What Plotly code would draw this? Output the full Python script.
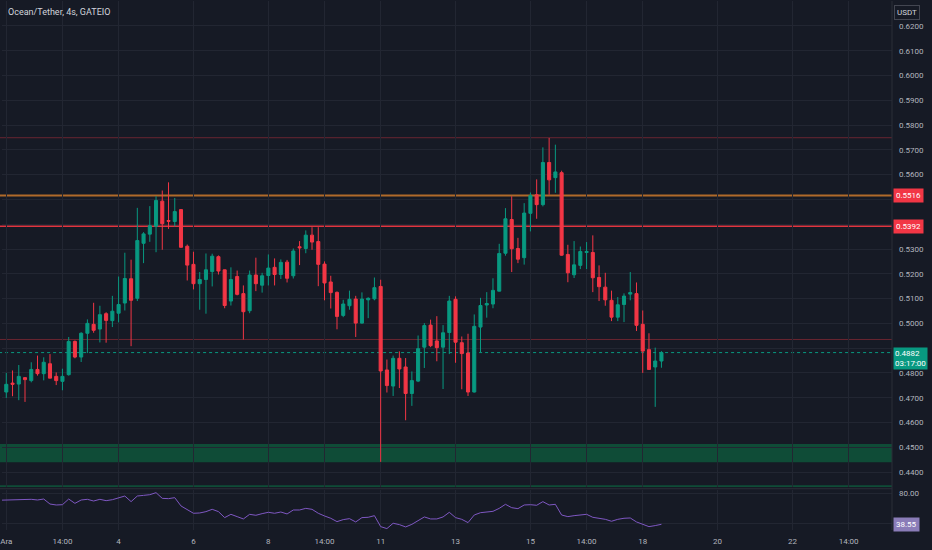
import pandas as pd
import plotly.graph_objects as go

# 4h candles, Ocean/Tether on GATEIO, December 2023
times = pd.date_range("2023-12-01 02:00", periods=106, freq="4h")
# RSI also has one point from the candle just left of the view
rsi_times = pd.date_range("2023-11-30 22:00", periods=107, freq="4h")

opens = [
    0.4723, 0.4759, 0.4755, 0.4781, 0.4769, 0.4814, 0.4797, 0.4837, 0.4786, 0.4766,
    0.4793, 0.4927, 0.4864, 0.4960, 0.4996, 0.4977, 0.5039, 0.5011, 0.5041, 0.5082,
    0.5180, 0.5101, 0.5323, 0.5360, 0.5392, 0.5493, 0.5415, 0.5411, 0.5459, 0.5311,
    0.5238, 0.5160, 0.5177, 0.5209, 0.5269, 0.5216, 0.5090, 0.5189, 0.5120, 0.5051,
    0.5195, 0.5154, 0.5193, 0.5226, 0.5197, 0.5247, 0.5192, 0.5309, 0.5302, 0.5356,
    0.5330, 0.5239, 0.5167, 0.5125, 0.5032, 0.5071, 0.5098, 0.5001, 0.5095, 0.5099,
    0.5149, 0.4812, 0.4747, 0.4859, 0.4824, 0.4717, 0.4767, 0.4904, 0.4993, 0.4929,
    0.4904, 0.4963, 0.5097, 0.4922, 0.4880, 0.4723, 0.4985, 0.5074, 0.5078, 0.5130,
    0.5283, 0.5419, 0.5302, 0.5265, 0.5444, 0.5519, 0.5479, 0.5649, 0.5588, 0.5608,
    0.5278, 0.5196, 0.5234, 0.5286, 0.5286, 0.5185, 0.5146, 0.5093, 0.5025, 0.5076,
    0.5118, 0.5120, 0.4996, 0.4894, 0.4824, 0.4848,
]
highs = [
    0.4800, 0.4810, 0.4832, 0.4783, 0.4843, 0.4870, 0.4863, 0.4876, 0.4802, 0.4817,
    0.4945, 0.4931, 0.4964, 0.5016, 0.5083, 0.5071, 0.5045, 0.5111, 0.5189, 0.5285,
    0.5257, 0.5466, 0.5368, 0.5473, 0.5513, 0.5536, 0.5569, 0.5506, 0.5461, 0.5318,
    0.5289, 0.5207, 0.5282, 0.5281, 0.5274, 0.5217, 0.5226, 0.5213, 0.5153, 0.5213,
    0.5265, 0.5204, 0.5278, 0.5262, 0.5258, 0.5256, 0.5302, 0.5332, 0.5375, 0.5388,
    0.5388, 0.5250, 0.5192, 0.5129, 0.5095, 0.5132, 0.5111, 0.5125, 0.5105, 0.5185,
    0.5176, 0.4854, 0.4870, 0.4887, 0.4860, 0.4806, 0.4951, 0.5001, 0.5015, 0.5029,
    0.4993, 0.5111, 0.5109, 0.4947, 0.4958, 0.5036, 0.5103, 0.5126, 0.5182, 0.5321,
    0.5465, 0.5513, 0.5345, 0.5485, 0.5528, 0.5581, 0.5710, 0.5748, 0.5721, 0.5616,
    0.5317, 0.5332, 0.5310, 0.5328, 0.5355, 0.5234, 0.5204, 0.5132, 0.5106, 0.5121,
    0.5207, 0.5165, 0.5052, 0.4960, 0.4902, 0.4888,
]
lows = [
    0.4699, 0.4706, 0.4690, 0.4683, 0.4762, 0.4789, 0.4770, 0.4779, 0.4751, 0.4730,
    0.4789, 0.4859, 0.4844, 0.4880, 0.4962, 0.4923, 0.4922, 0.4985, 0.5004, 0.5052,
    0.4908, 0.5090, 0.5243, 0.5329, 0.5287, 0.5297, 0.5381, 0.5391, 0.5305, 0.5173,
    0.5137, 0.5055, 0.5039, 0.5149, 0.5197, 0.5061, 0.5072, 0.5113, 0.4935, 0.5041,
    0.5130, 0.5124, 0.5153, 0.5153, 0.5179, 0.5165, 0.5181, 0.5235, 0.5283, 0.5297,
    0.5150, 0.5093, 0.5060, 0.4976, 0.5025, 0.5055, 0.4945, 0.4999, 0.5021, 0.5093,
    0.4441, 0.4721, 0.4707, 0.4739, 0.4609, 0.4667, 0.4763, 0.4820, 0.4904, 0.4847,
    0.4735, 0.4876, 0.4841, 0.4734, 0.4707, 0.4721, 0.4884, 0.5023, 0.5061, 0.5129,
    0.5273, 0.5207, 0.5243, 0.5237, 0.5371, 0.5422, 0.5472, 0.5519, 0.5527, 0.5273,
    0.5166, 0.5183, 0.5219, 0.5219, 0.5126, 0.5090, 0.5071, 0.5009, 0.5009, 0.5005,
    0.5093, 0.4969, 0.4800, 0.4812, 0.4663, 0.4821,
]
closes = [
    0.4754, 0.4754, 0.4786, 0.4773, 0.4814, 0.4797, 0.4843, 0.4779, 0.4769, 0.4786,
    0.4927, 0.4864, 0.4960, 0.5000, 0.4972, 0.5035, 0.5012, 0.5049, 0.5076, 0.5181,
    0.5093, 0.5334, 0.5361, 0.5394, 0.5496, 0.5402, 0.5412, 0.5451, 0.5307, 0.5235,
    0.5160, 0.5177, 0.5216, 0.5271, 0.5211, 0.5072, 0.5177, 0.5117, 0.5047, 0.5195,
    0.5160, 0.5192, 0.5223, 0.5197, 0.5246, 0.5182, 0.5292, 0.5305, 0.5356, 0.5328,
    0.5238, 0.5163, 0.5124, 0.5028, 0.5078, 0.5097, 0.5001, 0.5098, 0.5101, 0.5144,
    0.4808, 0.4749, 0.4859, 0.4816, 0.4717, 0.4769, 0.4898, 0.4991, 0.4910, 0.4902,
    0.4962, 0.5090, 0.4924, 0.4878, 0.4723, 0.4988, 0.5072, 0.5080, 0.5133, 0.5282,
    0.5422, 0.5301, 0.5259, 0.5445, 0.5516, 0.5479, 0.5649, 0.5579, 0.5611, 0.5275,
    0.5204, 0.5236, 0.5290, 0.5290, 0.5184, 0.5148, 0.5095, 0.5025, 0.5075, 0.5110,
    0.5124, 0.4992, 0.4888, 0.4814, 0.4848, 0.4882,
]
rsi = [
    70.8,
    71.1, 70.6, 71.5, 71.0, 72.0, 71.1, 72.4, 65.7, 64.4, 64.8,
    72.4, 66.6, 71.1, 72.0, 69.7, 72.0, 70.2, 71.5, 74.2, 76.4,
    68.9, 76.4, 77.3, 78.2, 80.9, 73.3, 72.9, 74.2, 63.1, 57.7,
    53.3, 53.7, 55.5, 58.6, 55.5, 47.5, 51.9, 48.8, 45.7, 51.9,
    50.6, 52.8, 54.6, 53.3, 55.0, 52.4, 57.7, 57.7, 59.9, 58.6,
    53.3, 49.7, 46.6, 42.1, 44.8, 46.1, 41.7, 47.5, 47.9, 50.1,
    35.4, 32.8, 39.9, 38.1, 35.0, 38.5, 43.0, 48.4, 45.7, 45.7,
    48.4, 54.6, 47.5, 45.2, 40.8, 51.0, 54.1, 54.6, 55.9, 59.9,
    65.3, 60.8, 59.5, 64.4, 64.8, 64.0, 68.9, 64.4, 65.3, 51.0,
    48.8, 50.1, 51.5, 51.9, 47.9, 46.6, 45.2, 42.6, 45.2, 46.6,
    47.0, 41.7, 38.1, 35.4, 36.8, 38.55,
]

price_ticks = [0.44, 0.45, 0.46, 0.47, 0.48, 0.49, 0.50, 0.51, 0.52, 0.53,
               0.54, 0.55, 0.56, 0.57, 0.58, 0.59, 0.60, 0.61, 0.62]
# labels hidden behind the price tags, as on the original scale
price_labels = ["0.4400", "0.4500", "0.4600", "0.4700", "0.4800", "", "0.5000", "0.5100",
                "0.5200", "0.5300", "", "", "0.5600", "0.5700", "0.5800", "0.5900",
                "0.6000", "0.6100", "0.6200"]
time_ticks = ["2023-12-01 02:00", "2023-12-02 14:00", "2023-12-04 02:00", "2023-12-06 02:00",
              "2023-12-08 02:00", "2023-12-09 14:00", "2023-12-11 02:00", "2023-12-13 02:00",
              "2023-12-15 02:00", "2023-12-16 14:00", "2023-12-18 02:00", "2023-12-20 02:00",
              "2023-12-22 02:00", "2023-12-23 14:00"]
time_labels = ["Ara", "14:00", "4", "6", "8", "14:00", "11", "13", "15", "14:00",
               "18", "20", "22", "14:00"]

# drawn levels
resistance_top = 0.5749
level_orange = 0.5516
level_red = 0.5392
level_low = 0.4935
last_price = 0.4882
zone_top, zone_bottom = 0.4513, 0.4440
zone2_top = 0.4347

BG = "#161a25"
GRID = "#222632"
TXT = "#b2b5be"
UP = "#089981"
DOWN = "#f23645"
FONT = "Roboto"

fig = go.Figure()
fig.add_trace(go.Candlestick(
    x=times, open=opens, high=highs, low=lows, close=closes,
    increasing=dict(line=dict(color=UP, width=1), fillcolor=UP),
    decreasing=dict(line=dict(color=DOWN, width=1), fillcolor=DOWN),
    xaxis="x", yaxis="y", showlegend=False, hoverinfo="skip",
))
fig.add_trace(go.Scatter(
    x=rsi_times, y=rsi, mode="lines", line=dict(color="#7e57c2", width=1),
    xaxis="x2", yaxis="y2", showlegend=False, hoverinfo="skip",
))

y_min, y_max = 0.43393, 0.63007
x_range = ["2023-11-30 23:15", "2023-12-24 17:48"]

def hline(y, color, width=1, dash="solid"):
    return dict(type="line", xref="paper", x0=-0.01, x1=1, yref="y", y0=y, y1=y,
                line=dict(color=color, width=width, dash=dash), layer="between")

shapes = [
    dict(type="rect", xref="paper", x0=-0.01, x1=1, yref="y", y0=zone_bottom, y1=zone_top,
         fillcolor="#0f4c37", line=dict(width=0), layer="between"),
    dict(type="rect", xref="paper", x0=-0.01, x1=1, yref="y", y0=y_min, y1=zone2_top,
         fillcolor="#0f4c37", line=dict(width=0), layer="between"),
    hline(resistance_top, "rgba(242,54,69,0.38)"),
    hline(level_orange, "#b06a2a", 2),
    hline(level_red, "#e03540", 1.5),
    hline(level_low, "rgba(242,54,69,0.38)"),
    hline(last_price, UP, 1, "dot"),
    # pane separator and price-scale border
    dict(type="line", xref="paper", x0=-0.01, x1=1, yref="paper", y0=0.078, y1=0.078,
         line=dict(color="#2a2e39", width=1)),
    dict(type="line", xref="paper", x0=1, x1=1, yref="paper", y0=0, y1=1,
         line=dict(color="#2a2e39", width=1)),
]

def price_tag(y, text, bg, yref="y"):
    return dict(xref="paper", x=1, xanchor="left", xshift=1, yref=yref, y=y,
                yanchor="middle", text=text, showarrow=False, bgcolor=bg,
                font=dict(color="#ffffff", size=8, family=FONT), borderpad=2)

annotations = [
    dict(xref="paper", x=0, xanchor="left", xshift=4, yref="paper", y=1, yanchor="top",
         yshift=-4, text="Ocean/Tether, 4s, GATEIO", showarrow=False,
         font=dict(color="#d1d4dc", size=9, family=FONT)),
    dict(xref="paper", x=1, xanchor="left", xshift=2, yref="paper", y=1, yanchor="top",
         yshift=-4, text="USDT", showarrow=False, bgcolor=BG, bordercolor="#434651",
         borderwidth=1, borderpad=2, font=dict(color="#d1d4dc", size=8, family=FONT)),
    price_tag(level_orange, "0.5516", DOWN),
    price_tag(level_red, "0.5392", DOWN),
    dict(xref="paper", x=1, xanchor="left", xshift=1, yref="y", y=last_price,
         yanchor="top", yshift=6, text="0.4882<br>03:17:00", showarrow=False,
         bgcolor=UP, align="left", borderpad=1,
         font=dict(color="#ffffff", size=8, family=FONT)),
    price_tag(rsi[-1], "38.55", "#8a7cb8", yref="y2"),
]

fig.update_layout(
    width=932, height=550,
    margin=dict(l=0, r=40, t=0, b=20),
    paper_bgcolor=BG, plot_bgcolor=BG,
    font=dict(family=FONT, color=TXT, size=8),
    showlegend=False,
    shapes=shapes, annotations=annotations,
    xaxis=dict(domain=[0, 1], anchor="y", range=x_range, type="date",
               tickvals=time_ticks, ticktext=time_labels, showticklabels=False,
               showgrid=True, gridcolor=GRID, zeroline=False,
               rangeslider=dict(visible=False), fixedrange=True),
    xaxis2=dict(domain=[0, 1], anchor="y2", range=x_range, type="date", matches="x",
                tickvals=time_ticks, ticktext=time_labels, showgrid=True,
                gridcolor=GRID, zeroline=False, tickfont=dict(size=8, color=TXT),
                ticks="", ticklabelstandoff=5, ticklabeloverflow="allow"),
    yaxis=dict(domain=[0.0811, 1], anchor="x", side="right", range=[y_min, y_max],
               tickvals=price_ticks, ticktext=price_labels, showgrid=True, gridcolor=GRID,
               zeroline=False, ticks="", ticklabelstandoff=6,
               tickfont=dict(size=8, color=TXT)),
    yaxis2=dict(domain=[0, 0.0755], anchor="x2", side="right", range=[30.9, 84.4],
                tickvals=[40, 80], ticktext=["", "80.00"], showgrid=True, gridcolor=GRID,
                zeroline=False, ticks="", ticklabelstandoff=6,
                tickfont=dict(size=8, color=TXT)),
)

fig.write_html("out.html", config={"displayModeBar": False},
               post_script="document.body.style.margin='0';")
